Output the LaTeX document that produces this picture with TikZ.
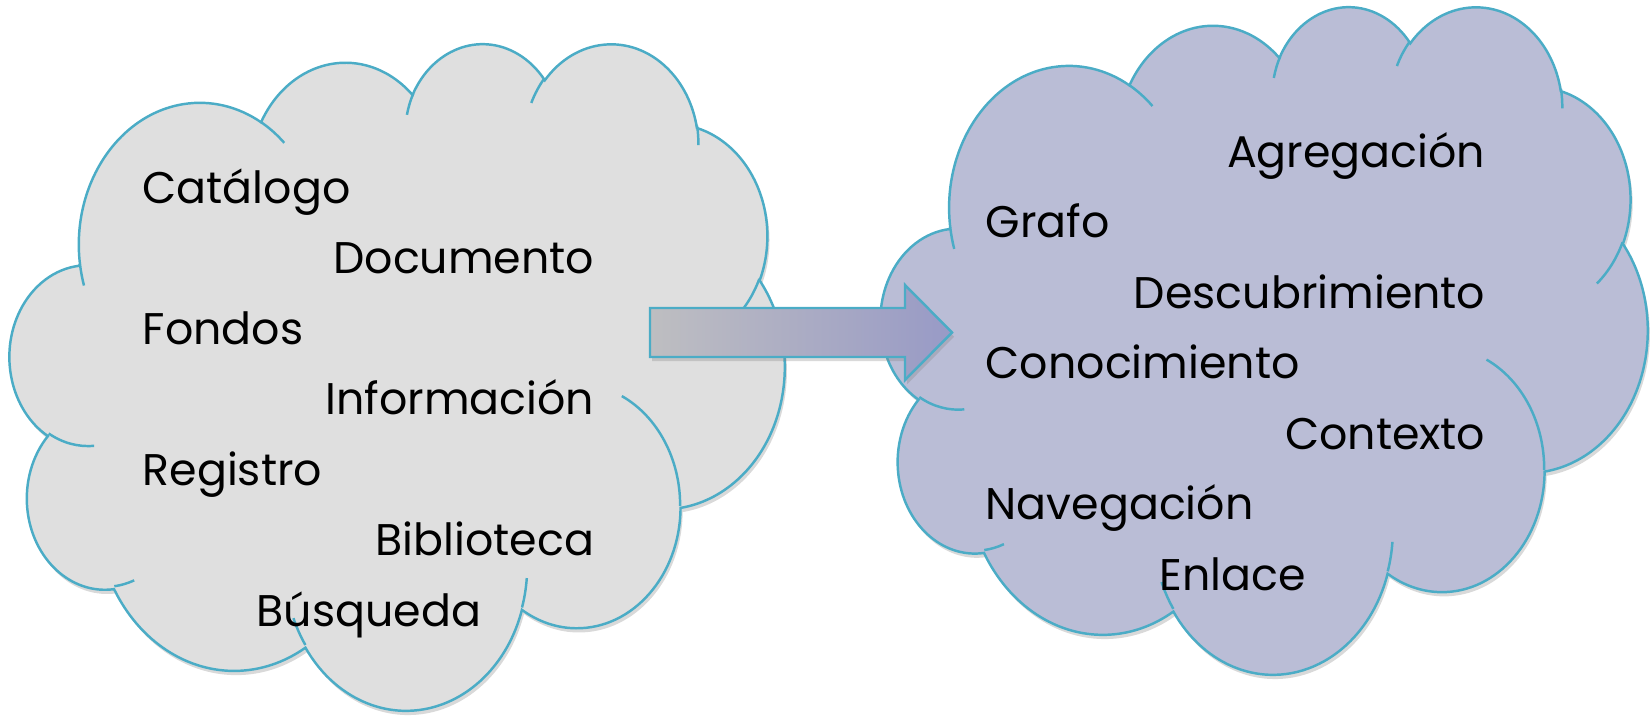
\documentclass[tikz,border=0pt]{standalone}
\usepackage{fontspec}
\setmainfont{Poppins}
\usetikzlibrary{shadows}

\definecolor{cloudline}{RGB}{75,172,198}
\definecolor{greycloud}{RGB}{223,223,223}
\definecolor{bluecloud}{RGB}{186,189,214}
\definecolor{arrowleft}{RGB}{190,190,193}
\definecolor{arrowright}{RGB}{152,154,198}

% radii of one cloud arc (units of 100) and its visual angles -> parametric ones
\newcommand\cloudcalc[4]{%
  \pgfmathsetmacro\ta{atan2(#1*sin(#3),#2*cos(#3))}%
  \pgfmathsetmacro\tb{atan2(#1*sin(#3+#4),#2*cos(#3+#4))}%
  \pgfmathsetmacro\td{\tb-(\ta)}%
  \pgfmathsetmacro\td{\td+360*round((#4-(\td))/360)}%
  \global\let\cst\ta\global\let\cdl\td}
\newcommand\cloudarc[4]{\pgfextra{\cloudcalc{#1}{#2}{#3}{#4}}
  arc[x radius=#1, y radius=#2, start angle=\cst, delta angle=\cdl]}

% cloud in the box (x0,y0) w x h, in pixels
\newcommand\drawcloud[5]{%
  \pgfmathsetmacro\cx{#3/432*0.284528}%
  \pgfmathsetmacro\cy{#4/432*0.284528}%
  \begin{scope}[shift={(#1,#2)}, x=\cx pt, y=-\cy pt]
    \path[cloudedge, fill=#5, drop shadow={opacity=.3, shadow xshift=.6pt, shadow yshift=-1.2pt}]
      (39.00,143.70) \cloudarc{67.53}{91.90}{-190.48748}{123.78053}
      \cloudarc{53.33}{72.67}{-144.10238}{89.94523}
      \cloudarc{43.65}{59.45}{-145.80792}{99.72302}
      \cloudarc{48.57}{65.95}{-130.98607}{117.24173}
      \cloudarc{53.33}{72.73}{-78.70888}{109.02692}
      \cloudarc{67.75}{92.20}{-46.26725}{130.269}
      \cloudarc{57.85}{78.67}{0.62502}{114.03333}
      \cloudarc{67.52}{92.15}{22.4516}{115.17255}
      \cloudarc{77.20}{105.43}{66.24263}{75.71102}
      \cloudarc{43.60}{59.18}{-274.94208}{146.73557}
      \cloudarc{43.45}{59.45}{-246.8285}{152.51885} -- cycle;
    % inner folds
    \path[cloudedge]
      (46.93,261.77) \cloudarc{43.45}{59.45}{86.742}{26.4295}
      (69.28,348.99) \cloudarc{43.60}{59.18}{73.6105}{11.4475}
      (164.78,390.90) \cloudarc{67.52}{92.15}{137.6242}{14.0811}
      (288.27,347.51) \cloudarc{67.52}{92.15}{6.4533}{15.9984}
      (341.29,229.54) \cloudarc{57.85}{78.67}{-70.2924}{70.9174}
      (417.98,153.54) \cloudarc{53.33}{72.73}{30.3180}{27.7515}
      (383.24,54.26) \cloudarc{48.57}{65.95}{-13.7443}{14.8589}
      (290.78,39.52) \cloudarc{48.57}{65.95}{-149.1815}{18.1954}
      (221.41,47.20) \cloudarc{43.65}{59.45}{-163.4943}{17.6309}
      (140.00,51.92) \cloudarc{67.53}{91.90}{-66.7070}{12.3194}
      (41.27,157.89) \cloudarc{67.53}{91.90}{157.6544}{11.8582};
  \end{scope}}

\begin{document}
\begin{tikzpicture}[x=0.01cm, y=-0.01cm, % pixel units, y downwards
	cloudedge/.style={draw=cloudline, line width=.7pt},
	word/.style={font=\fontsize{12.6}{15}\selectfont, inner sep=0pt}]
	\useasboundingbox (0,0) rectangle (1652,721);

	\drawcloud{10}{42}{774}{666}{greycloud}
	\drawcloud{881}{5}{766}{667}{bluecloud}

	% block arrow
	\path[draw=cloudline, line width=.7pt, left color=arrowleft, right color=arrowright,
		drop shadow={opacity=.3, shadow xshift=.6pt, shadow yshift=-1.2pt}]
		(650,308) -- (905,308) -- (905,285) -- (952,332.5) -- (905,380) -- (905,357) -- (650,357) -- cycle;

	\node[word, anchor=base west] (cat) at (142,203)   {Catálogo};
	\node[word, anchor=base east] (doc) at (595,273.5) {Documento};
	\node[word, anchor=base west] (fon) at (142,344)   {Fondos};
	\node[word, anchor=base east] (inf) at (595,414.5) {Información};
	\node[word, anchor=base west] (reg) at (142,485)   {Registro};
	\node[word, anchor=base east] (bib) at (595,555.5) {Biblioteca};
	\node[word, anchor=base west] (bus) at (256,626)   {Búsqueda};

	\node[word, anchor=base east] (agr) at (1486,167)   {Agregación};
	\node[word, anchor=base west] (gra) at (985,237.5)  {Grafo};
	\node[word, anchor=base east] (des) at (1486,308)   {Descubrimiento};
	\node[word, anchor=base west] (con) at (985,378.5)  {Conocimiento};
	\node[word, anchor=base east] (ctx) at (1486,449)   {Contexto};
	\node[word, anchor=base west] (nav) at (985,519.5)  {Navegación};
	\node[word, anchor=base west] (enl) at (1159,590)   {Enlace};

\end{tikzpicture}
\end{document}
